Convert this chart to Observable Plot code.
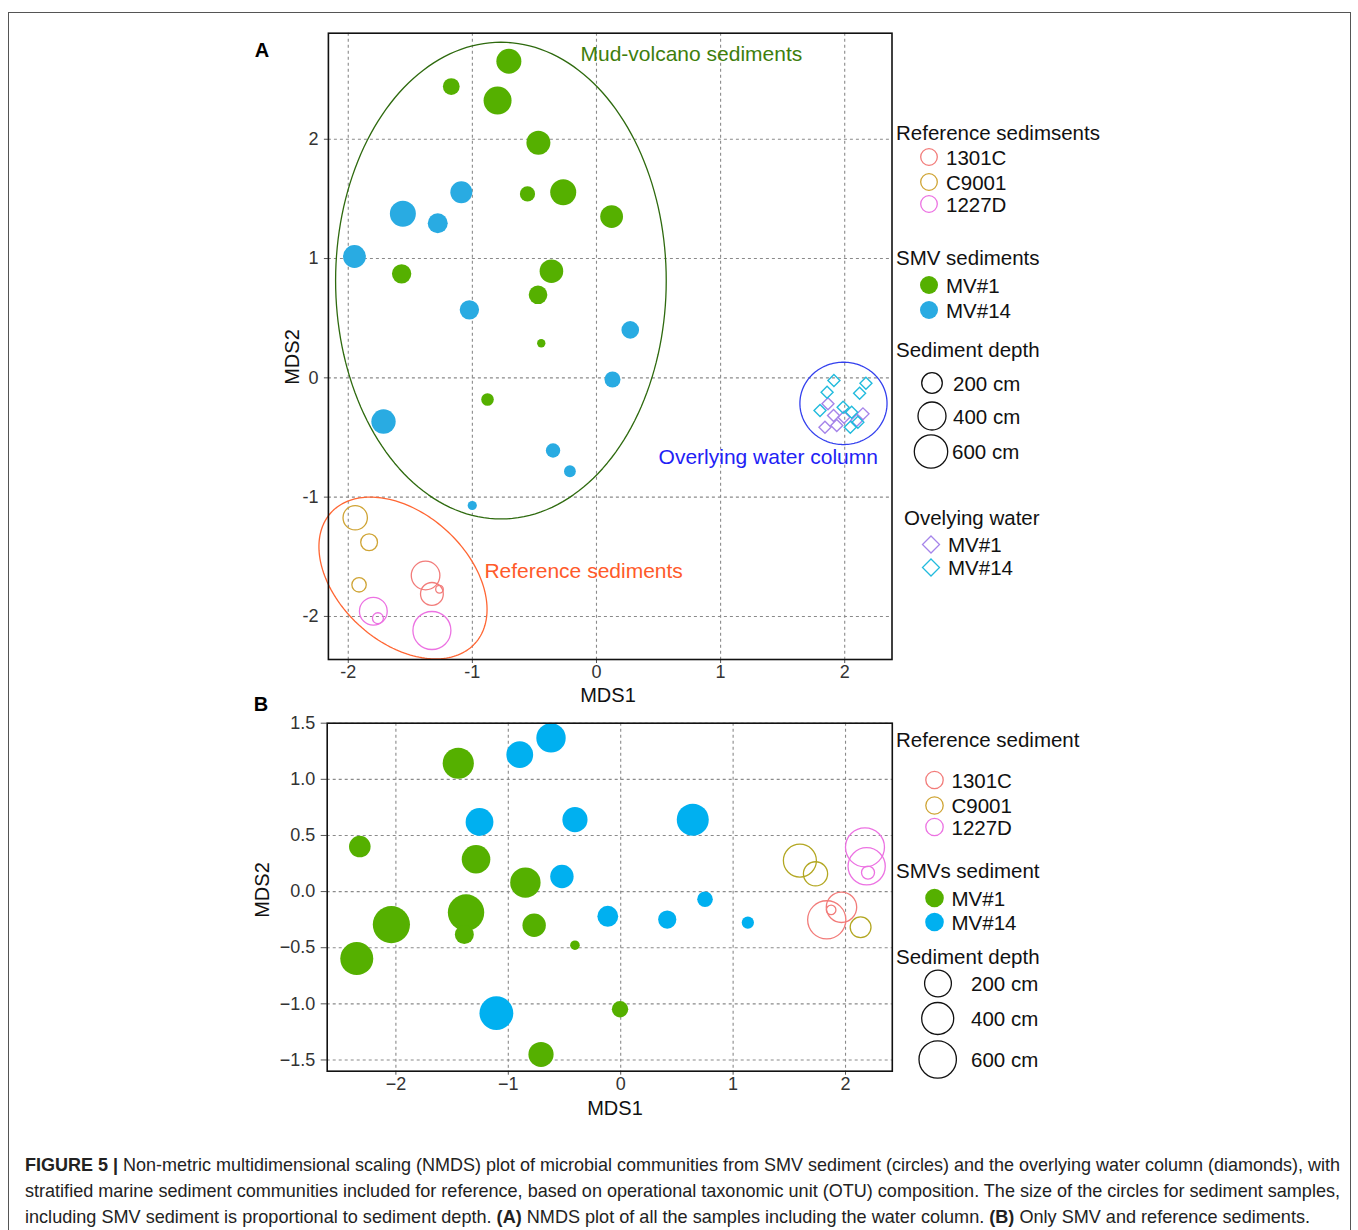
<!DOCTYPE html>
<html><head><meta charset="utf-8">
<script src="https://cdn.jsdelivr.net/npm/d3@7"></script>
<script src="https://cdn.jsdelivr.net/npm/@observablehq/plot@0.6"></script>
<style>
body{margin:0;background:#fff;width:1358px;height:1230px;position:relative;overflow:hidden;font-family:"Liberation Sans",Arial,sans-serif;}
.abs{position:absolute;}
#border{position:absolute;left:8px;top:12px;width:1341px;height:1260px;border:1px solid #555;}
.lab{position:absolute;font-size:20px;color:#111;white-space:nowrap;transform:translate(-50%,-50%);}
.panel{position:absolute;font-weight:bold;font-size:20px;color:#000;transform:translate(-50%,-50%);}
.cap{position:absolute;left:25px;font-family:"Liberation Sans",Arial,sans-serif;font-size:18.5px;color:#222;white-space:nowrap;line-height:26px;transform-origin:0 50%;display:inline-block;}
.cap b{font-weight:bold;}
#legend{position:absolute;left:0;top:0;}
</style></head><body>
<div id="border"></div>
<div id="plotA" class="abs" style="left:240px;top:20px"></div>
<div id="plotB" class="abs" style="left:240px;top:700px"></div>
<svg id="legend" width="1358" height="1230"></svg>
<div class="panel" style="left:262px;top:50px">A</div>
<div class="panel" style="left:261px;top:704px">B</div>
<div class="lab" style="left:608px;top:695px">MDS1</div>
<div class="lab" style="left:292px;top:357px;transform:translate(-50%,-50%) rotate(-90deg)">MDS2</div>
<div class="lab" style="left:615px;top:1108px">MDS1</div>
<div class="lab" style="left:262px;top:890px;transform:translate(-50%,-50%) rotate(-90deg)">MDS2</div>
<div class="cap" data-w="1315" style="top:1152px"><b>FIGURE 5 |</b> Non-metric multidimensional scaling (NMDS) plot of microbial communities from SMV sediment (circles) and the overlying water column (diamonds), with</div>
<div class="cap" data-w="1315" style="top:1178px">stratified marine sediment communities included for reference, based on operational taxonomic unit (OTU) composition. The size of the circles for sediment samples,</div>
<div class="cap" data-w="1285" style="top:1204px">including SMV sediment is proportional to sediment depth. <b>(A)</b> NMDS plot of all the samples including the water column. <b>(B)</b> Only SMV and reference sediments.</div>
<script>
// ---------- Panel A data: [MDS1, MDS2, depth cm] ----------
const a_mv1 = [[-0.706,2.654,260],[-1.170,2.442,117],[-0.797,2.324,326],[-0.468,1.970,239],[-0.556,1.542,96],[-0.268,1.556,281],[0.122,1.352,216],[-1.570,0.872,156],[-0.363,0.894,231],[-0.471,0.696,144],[-0.445,0.290,29],[-0.878,-0.182,66]];
const a_mv14 = [[-1.089,1.556,201],[-1.560,1.375,281],[-1.279,1.296,166],[-1.950,1.017,216],[-1.024,0.570,156],[0.272,0.402,129],[0.129,-0.014,106],[-1.716,-0.366,247],[-0.350,-0.609,86],[-0.214,-0.783,58],[-1.001,-1.070,35]];
const a_1301C = [[-1.377,-1.657,340],[-1.326,-1.811,216],[-1.265,-1.772,24]];
const a_C9001 = [[-1.944,-1.173,247],[-1.832,-1.378,117],[-1.913,-1.735,86]];
const a_1227D = [[-1.798,-1.956,321],[-1.761,-2.015,50],[-1.326,-2.118,600]];
const a_water_mv1 = [[1.865,-0.218],[1.910,-0.316],[1.841,-0.414],[1.936,-0.400],[1.994,-0.330],[2.147,-0.302],[2.096,-0.358]];
const a_water_mv14 = [[1.913,-0.023],[2.171,-0.045],[2.120,-0.129],[1.858,-0.121],[1.801,-0.274],[1.987,-0.246],[2.056,-0.288],[2.106,-0.372],[2.045,-0.414]];
// ellipses: center, semi-diameter vectors u, v (data units)
const a_ellipses = [
  {name:"Mud-volcano sediments", c:[-0.770,0.815], u:[1.332,0], v:[0,1.998]},
  {name:"Reference sediments", c:[-1.559,-1.678], u:[0.581,-0.547], v:[-0.348,-0.401]},
  {name:"Overlying water column", c:[1.990,-0.214], u:[0.351,0], v:[0,0.345]}
];
const a_labels = [
  {t:"Mud-volcano sediments", x:-0.129, y:2.71},
  {t:"Overlying water column", x:0.50, y:-0.668},
  {t:"Reference sediments", x:-0.903, y:-1.624}
];
const a_xticks = [-2,-1,0,1,2];
const a_yticks = [-2,-1,0,1,2];

// ---------- Panel B data ----------
const b_mv1 = [[-1.445,1.143,384],[-2.321,0.401,184],[-1.287,0.288,323],[-0.848,0.080,365],[-1.376,-0.187,523],[-2.040,-0.294,546],[-1.391,-0.383,142],[-0.770,-0.300,216],[-0.407,-0.478,36],[-2.348,-0.597,430],[-0.006,-1.048,106],[-0.709,-1.451,250]];
const b_mv14 = [[-0.620,1.369,341],[-0.898,1.220,283],[-1.256,0.620,305],[-0.407,0.641,250],[0.641,0.641,404],[-0.523,0.134,216],[0.750,-0.068,96],[-0.115,-0.220,171],[0.414,-0.249,131],[1.131,-0.276,59],[-1.106,-1.083,451]];
const b_C9001 = [[1.594,0.276,430],[1.733,0.158,231],[2.134,-0.318,171]];
const b_1227D = [[2.173,0.394,600],[2.188,0.225,546],[2.200,0.169,67]];
const b_1301C = [[1.964,-0.140,365],[1.833,-0.252,576],[1.872,-0.163,36]];
const b_xticks = [-2,-1,0,1,2];
const b_yticks = [-1.5,-1.0,-0.5,0.0,0.5,1.0,1.5];

// ---------- legend content ----------
const legA = {refTitle:"Reference sedimsents", smvTitle:"SMV sediments", depthTitle:"Sediment depth", waterTitle:"Ovelying water"};
const legB = {refTitle:"Reference sediment", smvTitle:"SMVs sediment", depthTitle:"Sediment depth"};
const refSites = ["1301C","C9001","1227D"];
const smvSites = ["MV#1","MV#14"];
const depthLabels = ["200 cm","400 cm","600 cm"];

// ---------- styles ----------
const C = {green:"#55B000", blueA:"#29ABE2", blueB:"#00B0F0", s1301C:"#F27C7A", C9001A:"#CFA434", C9001B:"#B3A722", s1227D:"#EC72E2",
  wMV1:"#A584EA", wMV14:"#22BBDD", ellGreen:"#2E6A0E", ellRed:"#FF6633", ellBlue:"#3340EE",
  txtGreen:"#3E7E0C", txtBlue:"#1E22F5", txtRed:"#FF5A2A"};
const FONT = '"Liberation Sans", Arial, sans-serif';

function ellipsePts(e){
  return d3.range(0, 361, 2).map(t => {
    const a = t*Math.PI/180;
    return {x: e.c[0] + e.u[0]*Math.cos(a) + e.v[0]*Math.sin(a), y: e.c[1] + e.u[1]*Math.cos(a) + e.v[1]*Math.sin(a)};
  });
}
const pt = arr => arr.map(d => ({x:d[0], y:d[1], depth:d[2]}));
const grid = {stroke:"#8a8a8a", strokeOpacity:1, strokeDasharray:"3,3", strokeWidth:1.1};

const plotA = Plot.plot({
  width: 660, height: 669,
  marginLeft: 87.9, marginRight: 8.5, marginTop: 12.7, marginBottom: 30,
  x: {domain:[-2.160, 2.381]},
  y: {domain:[-2.361, 2.889]},
  r: {type:"sqrt", domain:[0,600], range:[0,19]},
  style: {fontFamily: FONT, fontSize:"18px", color:"#333", background:"transparent", overflow:"visible"},
  marks: [
    Plot.gridX(a_xticks, grid),
    Plot.gridY(a_yticks, grid),
    Plot.axisX(a_xticks, {tickSize:4, tickPadding:2, tickFormat: d => String(d), label:null, fontSize:18, stroke:"#555"}),
    Plot.axisY(a_yticks, {tickSize:4, tickPadding:6, tickFormat: d => String(d), label:null, fontSize:18, stroke:"#555"}),
    Plot.dot(pt(a_mv1), {x:"x", y:"y", r:"depth", fill:C.green}),
    Plot.dot(pt(a_mv14), {x:"x", y:"y", r:"depth", fill:C.blueA}),
    Plot.dot(pt(a_1301C), {x:"x", y:"y", r:"depth", stroke:C.s1301C, fill:"none", strokeWidth:1.3}),
    Plot.dot(pt(a_C9001), {x:"x", y:"y", r:"depth", stroke:C.C9001A, fill:"none", strokeWidth:1.3}),
    Plot.dot(pt(a_1227D), {x:"x", y:"y", r:"depth", stroke:C.s1227D, fill:"none", strokeWidth:1.3}),
    Plot.dot(pt(a_water_mv1), {x:"x", y:"y", r:5.4, symbol:"diamond2", stroke:C.wMV1, fill:"none", strokeWidth:1.4}),
    Plot.dot(pt(a_water_mv14), {x:"x", y:"y", r:5.4, symbol:"diamond2", stroke:C.wMV14, fill:"none", strokeWidth:1.4}),
    Plot.line(ellipsePts(a_ellipses[0]), {x:"x", y:"y", stroke:C.ellGreen, strokeWidth:1.3}),
    Plot.line(ellipsePts(a_ellipses[1]), {x:"x", y:"y", stroke:C.ellRed, strokeWidth:1.3}),
    Plot.line(ellipsePts(a_ellipses[2]), {x:"x", y:"y", stroke:C.ellBlue, strokeWidth:1.3}),
    Plot.text([a_labels[0]], {x:"x", y:"y", text:"t", textAnchor:"start", fill:C.txtGreen, fontSize:21}),
    Plot.text([a_labels[1]], {x:"x", y:"y", text:"t", textAnchor:"start", fill:C.txtBlue, fontSize:21}),
    Plot.text([a_labels[2]], {x:"x", y:"y", text:"t", textAnchor:"start", fill:C.txtRed, fontSize:21}),
    Plot.frame({stroke:"#111", strokeWidth:1.6})
  ]
});
document.getElementById("plotA").append(plotA);

const plotB = Plot.plot({
  width: 660, height: 400.7,
  marginLeft: 86.7, marginRight: 8.2, marginTop: 22.7, marginBottom: 30,
  x: {domain:[-2.611, 2.416]},
  y: {domain:[-1.600, 1.500]},
  r: {type:"sqrt", domain:[0,600], range:[0,19.5]},
  style: {fontFamily: FONT, fontSize:"18px", color:"#333", background:"transparent", overflow:"visible"},
  marks: [
    Plot.gridX(b_xticks, grid),
    Plot.gridY(b_yticks, grid),
    Plot.axisX(b_xticks, {tickSize:4, tickPadding:2, tickFormat: d3.format("d"), label:null, fontSize:18, stroke:"#555"}),
    Plot.axisY(b_yticks, {tickSize:6, tickPadding:6, tickFormat: d3.format(".1f"), label:null, fontSize:18, stroke:"#555"}),
    Plot.dot(pt(b_mv1), {x:"x", y:"y", r:"depth", fill:C.green}),
    Plot.dot(pt(b_mv14), {x:"x", y:"y", r:"depth", fill:C.blueB}),
    Plot.dot(pt(b_C9001), {x:"x", y:"y", r:"depth", stroke:C.C9001B, fill:"none", strokeWidth:1.3}),
    Plot.dot(pt(b_1227D), {x:"x", y:"y", r:"depth", stroke:C.s1227D, fill:"none", strokeWidth:1.3}),
    Plot.dot(pt(b_1301C), {x:"x", y:"y", r:"depth", stroke:C.s1301C, fill:"none", strokeWidth:1.3}),
    Plot.frame({stroke:"#111", strokeWidth:1.6})
  ]
});
document.getElementById("plotB").append(plotB);

// ---------- legends ----------
const svg = d3.select("#legend").style("font-family", FONT);
function title(x, y, t){ svg.append("text").attr("x",x).attr("y",y).attr("dominant-baseline","central").attr("font-size",20.5).attr("fill","#111").text(t); }
function item(x, y, t){ svg.append("text").attr("x",x).attr("y",y).attr("dominant-baseline","central").attr("font-size",20.5).attr("fill","#111").text(t); }
function circ(x, y, r, stroke, fill){ svg.append("circle").attr("cx",x).attr("cy",y).attr("r",r).attr("stroke",stroke).attr("fill",fill).attr("stroke-width",1.3); }
function diam(x, y, h, stroke){ svg.append("path").attr("d",`M${x},${y-h}L${x+h},${y}L${x},${y+h}L${x-h},${y}Z`).attr("stroke",stroke).attr("fill","none").attr("stroke-width",1.3); }

// Legend A
const refColA = [C.s1301C, C.C9001A, C.s1227D];
title(896, 132, legA.refTitle);
[157, 182, 204].forEach((y,i) => { circ(929, y, 8.3, refColA[i], "none"); item(946, y, refSites[i]); });
title(896, 257, legA.smvTitle);
[285, 310].forEach((y,i) => { circ(929, y, 9, "none", i ? C.blueA : C.green); item(946, y, smvSites[i]); });
title(896, 349, legA.depthTitle);
[[932,383,10.3,953],[932,416,14,953],[931,451.5,16.7,952]].forEach((d,i) => { circ(d[0], d[1], d[2], "#111", "none"); item(d[3], d[1], depthLabels[i]); });
title(904, 517, legA.waterTitle);
[[544.5, C.wMV1],[567.5, C.wMV14]].forEach((d,i) => { diam(931, d[0], 8.5, d[1]); item(948, d[0], smvSites[i]); });

// Legend B
const refColB = [C.s1301C, C.C9001A, C.s1227D];
title(896, 739, legB.refTitle);
[780, 805.5, 827].forEach((y,i) => { circ(934.5, y, 8.7, refColB[i], "none"); item(951.5, y, refSites[i]); });
title(896, 870, legB.smvTitle);
[898, 922].forEach((y,i) => { circ(934.5, y, 9.3, "none", i ? C.blueB : C.green); item(951.5, y, smvSites[i]); });
title(896, 956, legB.depthTitle);
[[938,983.5,13.4],[937.7,1018.5,16],[937.7,1059.5,18.7]].forEach((d,i) => { circ(d[0], d[1], d[2], "#111", "none"); item(971, d[1], depthLabels[i]); });

// ---------- caption: condense each line to the reference width ----------
document.querySelectorAll(".cap").forEach(el => {
  const w = el.getBoundingClientRect().width;
  const target = +el.dataset.w;
  el.style.transform = `scaleX(${target / w})`;
});
</script>
</body></html>
